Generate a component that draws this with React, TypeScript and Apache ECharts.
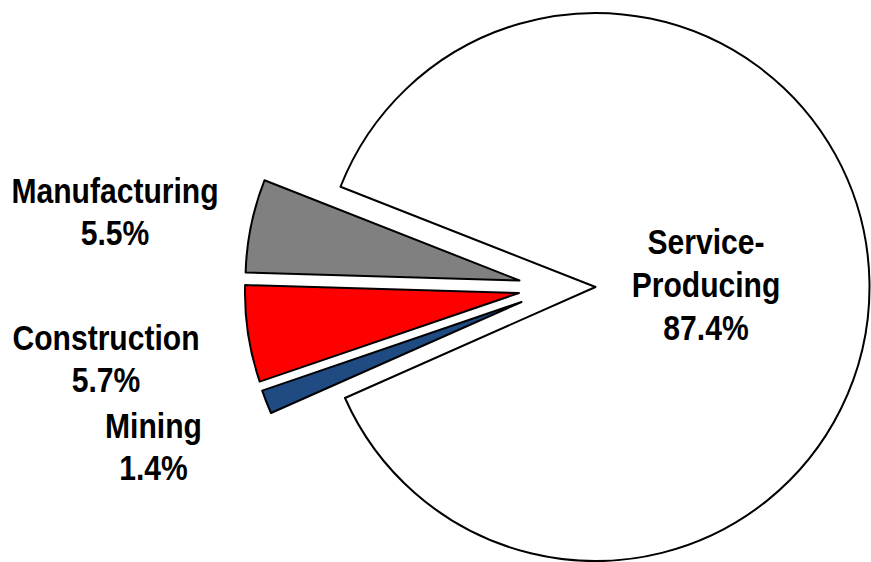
import React, { useEffect, useRef } from "react";
import * as echarts from "echarts";

// ---- data ----
const categories = ["Service-Producing", "Manufacturing", "Construction", "Mining"];
const shares = [87.4, 5.5, 5.7, 1.4];

// ---- styling / layout ----
const colors = ["#FFFFFF", "#808080", "#FF0000", "#1F4A82"];
const sliceCenters: number[][] = [
  [595.5, 287],
  [519.5, 280.5],
  [519, 293],
  [521.5, 302],
];
const labelAnchors: number[][] = [
  [706, 285],
  [115, 212],
  [106, 359],
  [153.5, 447],
];
const labelLineHeights = [43, 42, 42, 42];
const FONT = "'Liberation Sans', Arial, sans-serif";
const FONT_SIZE = 35;
const NARROW = 0.86;

export default function App() {
  const ref = useRef<HTMLDivElement>(null);
  useEffect(() => {
    const chart = echarts.init(ref.current!, null, { renderer: "svg" });
    const data = categories.map((name, i) => ({ name, value: shares[i] }));
    const series = categories.map((_, s) => ({
      type: "pie",
      z: 1,
      center: sliceCenters[s],
      radius: 274,
      startAngle: 203.9,
      clockwise: false,
      avoidLabelOverlap: false,
      silent: true,
      emphasis: { disabled: true },
      label: { show: false },
      labelLine: { show: false },
      data: data.map((d, i) => ({
        ...d,
        itemStyle:
          i === s
            ? { color: colors[i], borderColor: "#000", borderWidth: 2 }
            : { color: "rgba(0,0,0,0)", borderWidth: 0, borderColor: "rgba(0,0,0,0)" },
      })),
    }));
    const graphic = categories.map((name, i) => ({
      type: "text",
      z: 100,
      zlevel: 0,
      x: labelAnchors[i][0],
      y: labelAnchors[i][1],
      scaleX: NARROW,
      silent: true,
      style: {
        text: `${name.replace("-", "-\n")}\n${shares[i].toFixed(1)}%`,
        fill: "#000",
        fontFamily: FONT,
        fontWeight: "bold",
        fontSize: FONT_SIZE,
        lineHeight: labelLineHeights[i],
        textAlign: "center",
        textVerticalAlign: "middle",
      },
    }));
    chart.setOption({ animation: false, series, graphic });
    return () => chart.dispose();
  }, []);
  return (
    <div
      ref={ref}
      style={{ position: "absolute", left: 0, top: 0, width: 871, height: 562, background: "#fff" }}
    />
  );
}
